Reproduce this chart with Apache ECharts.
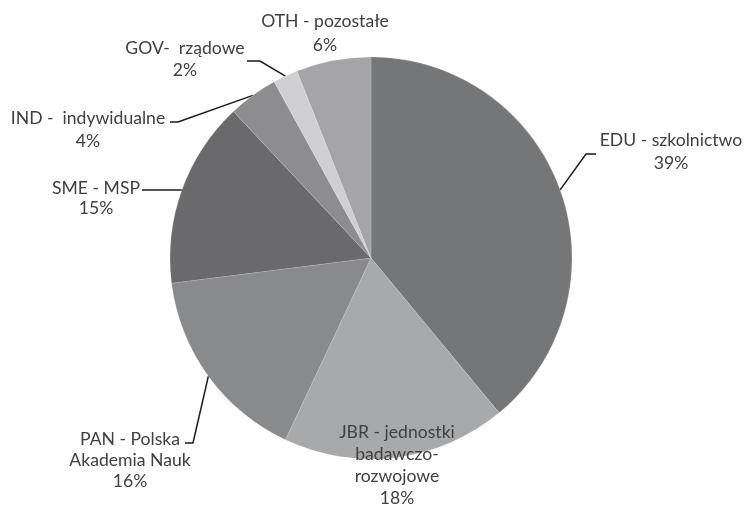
<!DOCTYPE html>
<html>
<head>
<meta charset="utf-8">
<script src="https://cdn.jsdelivr.net/npm/echarts@6/dist/echarts.min.js"></script>
<style>html,body{margin:0;padding:0;background:#fff;}#c{width:746px;height:506px;}</style>
</head>
<body>
<div id="c"></div>
<script>
// Data
const categories = [
  'EDU - szkolnictwo',
  'JBR - jednostki\nbadawczo-\nrozwojowe',
  'PAN - Polska\nAkademia Nauk',
  'SME - MSP',
  'IND -  indywidualne',
  'GOV-  rządowe',
  'OTH - pozostałe'
];
const values = [39, 18, 16, 15, 4, 2, 6];

// Styles / layout (not data)
const colors = ['#757678', '#a8a9ab', '#898a8c', '#6a6a6c', '#8d8d8f', '#d0d0d2', '#a5a5a7'];
const showLine = [true, false, true, true, true, true, false];
const labelPos = [
  {x: 671, y: 152, lh: 23, line: [[586, 154], [596, 154]]},
  {x: 397, y: 465, lh: 22, line: null},
  {x: 130, y: 460, lh: 21, line: [[193, 443], [185, 443]]},
  {x: 96,  y: 198, lh: 20, line: [[173, 190], [142, 190]]},
  {x: 88,  y: 130, lh: 23, line: [[178, 122], [170, 122]]},
  {x: 185, y: 59,  lh: 22, line: [[260, 61], [247, 61]]},
  {x: 325, y: 33,  lh: 24, line: null}
];

const chart = echarts.init(document.getElementById('c'), null, {renderer: 'canvas'});
chart.setOption({
  animation: false,
  backgroundColor: '#fff',
  series: [{
    type: 'pie',
    center: [371, 258],
    radius: 201,
    startAngle: 90,
    clockwise: true,
    avoidLabelOverlap: false,
    data: categories.map((n, i) => ({
      name: n,
      value: values[i],
      itemStyle: {color: colors[i]},
      label: {lineHeight: labelPos[i].lh},
      labelLine: {show: showLine[i]}
    })),
    label: {
      show: true,
      position: 'outside',
      formatter: '{b}\n{c}%',
      fontFamily: 'Lato',
      fontSize: 17.6,
      color: '#404040',
      align: 'center'
    },
    labelLine: {
      show: true,
      lineStyle: {color: '#1a1a1a', width: 1.5}
    },
    itemStyle: {borderColor: 'rgba(255,255,255,0.25)', borderWidth: 0.6},
    emphasis: {disabled: true},
    labelLayout: function (p) {
      const L = labelPos[p.dataIndex];
      const res = {x: L.x, y: L.y, align: 'center', verticalAlign: 'middle'};
      if (L.line && p.labelLinePoints) {
        res.labelLinePoints = [p.labelLinePoints[0], L.line[0], L.line[1]];
      }
      return res;
    }
  }]
});
</script>
</body>
</html>
